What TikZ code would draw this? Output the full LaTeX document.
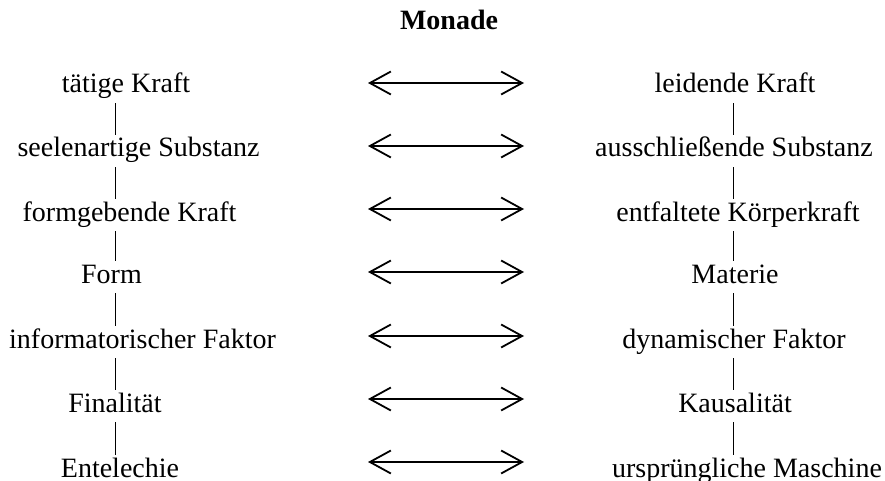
\documentclass[tikz,border=0pt]{standalone}
\usepackage{fontspec}
\setmainfont{Liberation Serif}
\usepackage{tikz}
\usetikzlibrary{arrows.meta}

\begin{document}
\begin{tikzpicture}[x=1pt,y=-1pt,
          txt/.style={font=\fontsize{28}{30}\selectfont, inner sep=0pt,
            text height=19pt, text depth=6pt, anchor=base},
          link/.style={line width=1pt, shorten <=4pt, shorten >=3pt},
          pair/.style={line width=1.8pt,
            {Straight Barb[length=21pt,width=23pt,line width=1.8pt]}-{Straight Barb[length=21pt,width=23pt,line width=1.8pt]}}]
          \useasboundingbox (0,0) rectangle (885,481);
          \node[txt, font=\fontsize{28}{30}\selectfont\bfseries] (title) at (449,30) {Monade};
          \coordinate (lx) at (115,0);
          \coordinate (rx) at (733,0);
          % linke Spalte
          \node[txt] (L1) at (126,93) {tätige Kraft};
          \node[txt] (L2) at (138.5,157) {seelenartige Substanz};
          \node[txt] (L3) at (129.5,221) {formgebende Kraft};
          \node[txt] (L4) at (111.5,283) {Form};
          \node[txt] (L5) at (142.5,348) {informatorischer Faktor};
          \node[txt] (L6) at (115,412) {Finalität};
          \node[txt] (L7) at (120,477) {Entelechie};
          % rechte Spalte
          \node[txt] (R1) at (735,93) {leidende Kraft};
          \node[txt] (R2) at (734,157) {ausschließende Substanz};
          \node[txt] (R3) at (738,221) {entfaltete Körperkraft};
          \node[txt] (R4) at (735,283) {Materie};
          \node[txt] (R5) at (734,348) {dynamischer Faktor};
          \node[txt] (R6) at (735,412) {Kausalität};
          \node[txt] (R7) at (747,477) {ursprüngliche Maschine};
          % senkrechte Striche
          \draw[link] (L1.south -| lx) -- (L2.north -| lx);
          \draw[link] (L2.south -| lx) -- (L3.north -| lx);
          \draw[link] (L3.south -| lx) -- (L4.north -| lx);
          \draw[link] (L4.south -| lx) -- (L5.north -| lx);
          \draw[link] (L5.south -| lx) -- (L6.north -| lx);
          \draw[link] (L6.south -| lx) -- (L7.north -| lx);
          \draw[link] (R1.south -| rx) -- (R2.north -| rx);
          \draw[link] (R2.south -| rx) -- (R3.north -| rx);
          \draw[link] (R3.south -| rx) -- (R4.north -| rx);
          \draw[link] (R4.south -| rx) -- (R5.north -| rx);
          \draw[link] (R5.south -| rx) -- (R6.north -| rx);
          \draw[link] (R6.south -| rx) -- (R7.north -| rx);
          % Doppelpfeile
          \coordinate (A1) at (368,83);  \coordinate (B1) at (524,83);
          \coordinate (A2) at (368,146); \coordinate (B2) at (524,146);
          \coordinate (A3) at (368,209); \coordinate (B3) at (524,209);
          \coordinate (A4) at (368,272); \coordinate (B4) at (524,272);
          \coordinate (A5) at (368,336); \coordinate (B5) at (524,336);
          \coordinate (A6) at (368,399); \coordinate (B6) at (524,399);
          \coordinate (A7) at (368,462); \coordinate (B7) at (524,462);
          \draw[pair] (A1) -- (B1);
          \draw[pair] (A2) -- (B2);
          \draw[pair] (A3) -- (B3);
          \draw[pair] (A4) -- (B4);
          \draw[pair] (A5) -- (B5);
          \draw[pair] (A6) -- (B6);
          \draw[pair] (A7) -- (B7);
        \end{tikzpicture}
\end{document}
